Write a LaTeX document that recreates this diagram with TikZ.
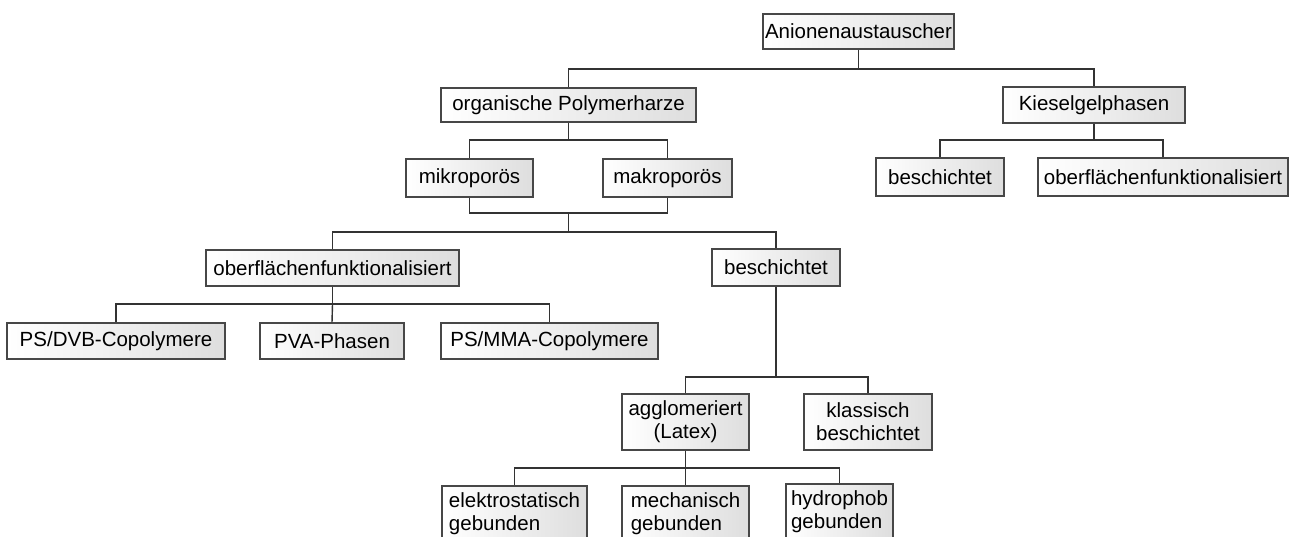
\documentclass[tikz,border=0pt]{standalone}
\usepackage{fontspec}
\setmainfont{Liberation Sans}
\begin{document}
\begin{tikzpicture}[x=1pt,y=-1pt,
  box/.style={draw=black!72, line width=1.1pt, left color=white, right color=black!13,
    inner sep=0pt, font=\fontsize{20.5}{23}\selectfont, align=center},
  boxl/.style={box, align=left},
  conn/.style={draw=black!80, line width=1.4pt}]
\clip (0,0) rectangle (1290,536);
\fill[white] (0,0) rectangle (1290,536);
% nodes
\node[box, minimum width=191pt, minimum height=35pt] (anion) at (858.5,31.5) {Anionenaustauscher};
\node[box, minimum width=255pt, minimum height=34pt] (org) at (568.5,105) {organische Polymerharze};
\node[box, minimum width=182pt, minimum height=36pt] (kiesel) at (1094,105) {Kieselgelphasen};
\node[box, minimum width=127pt, minimum height=38pt] (mikro) at (469.5,178) {mikroporös};
\node[box, minimum width=129pt, minimum height=38pt] (makro) at (667.5,178) {makroporös};
\node[box, minimum width=128pt, minimum height=38pt] (kbesch) at (940,177) {beschichtet};
\node[box, minimum width=250pt, minimum height=38pt] (kober) at (1163,177) {oberflächenfunktionalisiert};
\node[box, minimum width=253pt, minimum height=36pt] (ober) at (332.5,268) {oberflächenfunktionalisiert};
\node[box, minimum width=128pt, minimum height=37pt] (besch) at (776,267.5) {beschichtet};
\node[box, minimum width=218pt, minimum height=36pt] (psdvb) at (116,341) {PS/DVB-Copolymere};
\node[box, minimum width=144pt, minimum height=36pt] (pva) at (332,341) {PVA-Phasen};
\node[box, minimum width=217pt, minimum height=36pt] (psmma) at (549.5,341) {PS/MMA-Copolymere};
\node[box, minimum width=127pt, minimum height=56pt] (aggl) at (685.5,422) {agglomeriert\\(Latex)};
\node[box, minimum width=128pt, minimum height=56pt] (klass) at (868,422) {klassisch\\beschichtet};
\node[boxl, minimum width=145pt, minimum height=56pt] (elek) at (514.5,514) {elektrostatisch\\gebunden};
\node[boxl, minimum width=127pt, minimum height=56pt] (mech) at (685.5,514) {mechanisch\\gebunden};
\node[boxl, minimum width=107pt, minimum height=56pt] (hydro) at (839.5,512) {hydrophob\\gebunden};
% connectors
\coordinate (b1) at (858.5,69);
\draw[conn] (anion.south) -- (b1);
\draw[conn] (b1) -| (org.north);
\draw[conn] (b1) -| (kiesel.north);
\coordinate (b2) at (568.5,140);
\draw[conn] (org.south) -- (b2);
\draw[conn] (b2) -| (mikro.north);
\draw[conn] (b2) -| (makro.north);
\coordinate (b3) at (1094,140);
\draw[conn] (kiesel.south) -- (b3);
\draw[conn] (b3) -| (kbesch.north);
\draw[conn] (b3) -| (kober.north);
\coordinate (j) at (568.5,213);
\coordinate (b4) at (568.5,232);
\draw[conn] (mikro.south) |- (j) -| (makro.south);
\draw[conn] (j) -- (b4);
\draw[conn] (b4) -| (ober.north);
\draw[conn] (b4) -| (besch.north);
\coordinate (b5) at (332.5,304);
\draw[conn] (ober.south) -- (b5);
\draw[conn] (b5) -| (psdvb.north);
\draw[conn] (b5) -- (pva.north);
\draw[conn] (b5) -| (psmma.north);
\coordinate (b6) at (776,377);
\draw[conn] (besch.south) -- (b6);
\draw[conn] (b6) -| (aggl.north);
\draw[conn] (b6) -| (klass.north);
\coordinate (b7) at (685.5,468);
\draw[conn] (aggl.south) -- (b7);
\draw[conn] (b7) -| (elek.north);
\draw[conn] (b7) -- (mech.north);
\draw[conn] (b7) -| (hydro.north);
\end{tikzpicture}
\end{document}
